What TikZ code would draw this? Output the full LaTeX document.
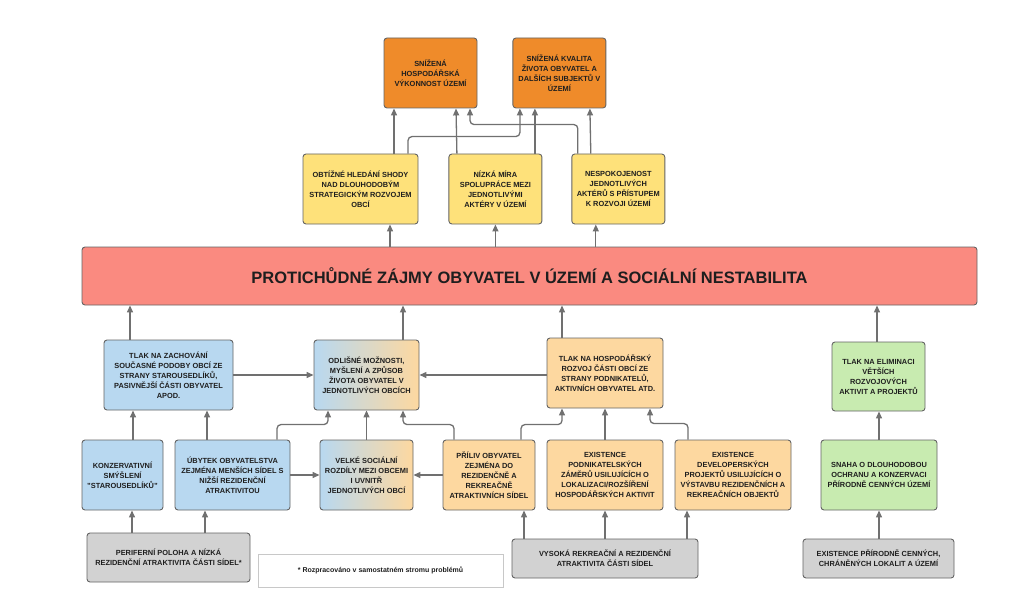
\documentclass[tikz,border=0pt]{standalone}
\usepackage{fontspec}
\setmainfont{Liberation Sans}
\usepackage{tikz}
\usepackage{xcolor}
\usetikzlibrary{positioning}
\usetikzlibrary{arrows.meta}

\definecolor{orangec}{RGB}{239,139,42}
\definecolor{yellowc}{RGB}{254,225,122}
\definecolor{redc}{RGB}{250,138,128}
\definecolor{bluec}{RGB}{184,216,240}
\definecolor{peachc}{RGB}{253,216,160}
\definecolor{greenc}{RGB}{200,235,176}
\definecolor{grayc}{RGB}{210,210,210}
\definecolor{edgec}{RGB}{100,100,100}
\definecolor{linkc}{RGB}{112,112,112}
\definecolor{notec}{RGB}{200,200,200}
\definecolor{textc}{RGB}{30,30,30}

\begin{document}
\begin{tikzpicture}[x=1pt, y=-1pt,
    cell/.style={draw=edgec, line width=0.9pt, rounded corners=3pt, align=center,
      inner sep=1pt, text=textc, font=\bfseries\fontsize{7.4}{10}\selectfont},
    link/.style={draw=linkc, line width=1.3pt, rounded corners=4pt,
      -{Triangle[length=7pt,width=6pt]}}]
    \useasboundingbox (0,0) rectangle (1024,596);

    \node(lowperf) [cell, fill=orangec, minimum width=93pt, minimum height=70pt] at (430.5,73) {SNÍŽENÁ\\HOSPODÁŘSKÁ\\VÝKONNOST ÚZEMÍ};
    \node(lowlife) [cell, fill=orangec, minimum width=93pt, minimum height=70pt, right = 35pt of lowperf] {SNÍŽENÁ KVALITA\\ŽIVOTA OBYVATEL A\\DALŠÍCH SUBJEKTŮ V\\ÚZEMÍ};

    \node(consensus) [cell, fill=yellowc, minimum width=115pt, minimum height=70pt] at (360.5,189) {OBTÍŽNÉ HLEDÁNÍ SHODY\\NAD DLOUHODOBÝM\\STRATEGICKÝM ROZVOJEM\\OBCÍ};
    \node(coop) [cell, fill=yellowc, minimum width=93pt, minimum height=70pt, right = 30pt of consensus] {NÍZKÁ MÍRA\\SPOLUPRÁCE MEZI\\JEDNOTLIVÝMI\\AKTÉRY V ÚZEMÍ};
    \node(discontent) [cell, fill=yellowc, minimum width=93pt, minimum height=70pt, right = 29pt of coop] {NESPOKOJENOST\\JEDNOTLIVÝCH\\AKTÉRŮ S PŘÍSTUPEM\\K ROZVOJI ÚZEMÍ};

    \node(conflict) [cell, fill=redc, minimum width=895pt, minimum height=58pt, font=\bfseries\fontsize{16.5}{20}\selectfont] at (529.5,276) {PROTICHŮDNÉ ZÁJMY OBYVATEL V ÚZEMÍ A SOCIÁLNÍ NESTABILITA};

    \node(preserve) [cell, fill=bluec, minimum width=129pt, minimum height=70pt] at (168.5,375) {TLAK NA ZACHOVÁNÍ\\SOUČASNÉ PODOBY OBCÍ ZE\\STRANY STAROUSEDLÍKŮ,\\PASIVNĚJŠÍ ČÁSTI OBYVATEL\\APOD.};
    \node(lifestyle) [cell, left color=bluec, right color=peachc, minimum width=105pt, minimum height=70pt] at (366.5,375) {ODLIŠNÉ MOŽNOSTI,\\MYŠLENÍ A ZPŮSOB\\ŽIVOTA OBYVATEL V\\JEDNOTLIVÝCH OBCÍCH};
    \node(econ) [cell, fill=peachc, minimum width=116pt, minimum height=70pt] at (605,373) {TLAK NA HOSPODÁŘSKÝ\\ROZVOJ ČÁSTI OBCÍ ZE\\STRANY PODNIKATELŮ,\\AKTIVNÍCH OBYVATEL ATD.};
    \node(eliminate) [cell, fill=greenc, minimum width=93pt, minimum height=69pt] at (878.5,376.5) {TLAK NA ELIMINACI\\VĚTŠÍCH\\ROZVOJOVÝCH\\AKTIVIT A PROJEKTŮ};

    \node(conserv) [cell, fill=bluec, minimum width=81pt, minimum height=70pt] at (122.5,475) {KONZERVATIVNÍ\\SMÝŠLENÍ\\"STAROUSEDLÍKŮ"};
    \node(decline) [cell, fill=bluec, minimum width=115pt, minimum height=70pt] at (232.5,475) {ÚBYTEK OBYVATELSTVA\\ZEJMÉNA MENŠÍCH SÍDEL S\\NIŽŠÍ REZIDENČNÍ\\ATRAKTIVITOU};
    \node(gaps) [cell, left color=bluec, right color=peachc, minimum width=93pt, minimum height=70pt] at (366.5,475) {VELKÉ SOCIÁLNÍ\\ROZDÍLY MEZI OBCEMI\\I UVNITŘ\\JEDNOTLIVÝCH OBCÍ};
    \node(inflow) [cell, fill=peachc, minimum width=92pt, minimum height=70pt] at (489,475) {PŘÍLIV OBYVATEL\\ZEJMÉNA DO\\REZIDENČNĚ A\\REKREAČNĚ\\ATRAKTIVNÍCH SÍDEL};
    \node(business) [cell, fill=peachc, minimum width=116pt, minimum height=70pt] at (605,475) {EXISTENCE\\PODNIKATELSKÝCH\\ZÁMĚRŮ USILUJÍCÍCH O\\LOKALIZACI/ROZŠÍŘENÍ\\HOSPODÁŘSKÝCH AKTIVIT};
    \node(develop) [cell, fill=peachc, minimum width=116pt, minimum height=70pt] at (733,475) {EXISTENCE\\DEVELOPERSKÝCH\\PROJEKTŮ USILUJÍCÍCH O\\VÝSTAVBU REZIDENČNÍCH A\\REKREAČNÍCH OBJEKTŮ};
    \node(protect) [cell, fill=greenc, minimum width=116pt, minimum height=70pt] at (879,475) {SNAHA O DLOUHODOBOU\\OCHRANU A KONZERVACI\\PŘÍRODNĚ CENNÝCH ÚZEMÍ};

    \node(periph) [cell, fill=grayc, minimum width=163pt, minimum height=49pt] at (168.5,557.5) {PERIFERNÍ POLOHA A NÍZKÁ\\REZIDENČNÍ ATRAKTIVITA ČÁSTI SÍDEL*};
    \node(note) [draw=notec, line width=0.6pt, fill=white, text=textc, minimum width=245pt, minimum height=33pt, font=\bfseries\fontsize{7}{9}\selectfont] at (380.5,570.5) {* Rozpracováno v samostatném stromu problémů};
    \node(attract) [cell, fill=grayc, minimum width=186pt, minimum height=39pt] at (605,558.5) {VYSOKÁ REKREAČNÍ A REZIDENČNÍ\\ATRAKTIVITA ČÁSTI SÍDEL};
    \node(nature) [cell, fill=grayc, minimum width=151pt, minimum height=39pt] at (878.5,558.5) {EXISTENCE PŘÍRODNĚ CENNÝCH,\\CHRÁNĚNÝCH LOKALIT A ÚZEMÍ};

    \draw [link] ([xshift=33.5pt]consensus.north) -- ([xshift=-36.5pt]lowperf.south);
    \draw [link] ([xshift=47.5pt]consensus.north) -- ++(0,-17) -| ([xshift=-39.5pt]lowlife.south);
    \draw [link] ([xshift=-38.5pt]coop.north) -- ([xshift=25.5pt]lowperf.south);
    \draw [link] ([xshift=39.5pt]coop.north) -- ([xshift=-24.5pt]lowlife.south);
    \draw [link] ([xshift=-40.5pt]discontent.north) -- ++(0,-29) -| ([xshift=39.5pt]lowperf.south);
    \draw [link] ([xshift=-27.5pt]discontent.north) -- ([xshift=30.5pt]lowlife.south);

    \draw [link] ([xshift=29.5pt]consensus.south |- conflict.north) -- ([xshift=29.5pt]consensus.south);
    \draw [link] (coop.south |- conflict.north) -- (coop.south);
    \draw [link] ([xshift=-22.5pt]discontent.south |- conflict.north) -- ([xshift=-22.5pt]discontent.south);

    \draw [link] ([xshift=-38.5pt]preserve.north) -- ([xshift=-38.5pt]preserve.north |- conflict.south);
    \draw [link] ([xshift=36.5pt]lifestyle.north) -- ([xshift=36.5pt]lifestyle.north |- conflict.south);
    \draw [link] ([xshift=-43pt]econ.north) -- ([xshift=-43pt]econ.north |- conflict.south);
    \draw [link] ([xshift=-1.5pt]eliminate.north) -- ([xshift=-1.5pt]eliminate.north |- conflict.south);

    \draw [link] (preserve.east) -- (lifestyle.west);
    \draw [link] (econ.west |- lifestyle.east) -- (lifestyle.east);

    \draw [link] ([xshift=10.5pt]conserv.north) -- ([xshift=10.5pt]conserv.north |- preserve.south);
    \draw [link] ([xshift=-25.5pt]decline.north) -- ([xshift=-25.5pt]decline.north |- preserve.south);
    \draw [link] ([xshift=44.5pt]decline.north) -- ++(0,-15) -| ([xshift=-38.5pt]lifestyle.south);
    \draw [link] (decline.east) -- (gaps.west);
    \draw [link] (gaps.north) -- (lifestyle.south);
    \draw [link] ([xshift=-35pt]inflow.north) -- ++(0,-15) -| ([xshift=36.5pt]lifestyle.south);
    \draw [link] (inflow.west) -- (gaps.east);
    \draw [link] ([xshift=32pt]inflow.north) -- ++(0,-15) -| ([xshift=-43pt]econ.south);
    \draw [link] (business.north) -- (econ.south);
    \draw [link] ([xshift=-45pt]develop.north) -- ++(0,-16) -| ([xshift=45pt]econ.south);
    \draw [link] (protect.north) -- (protect.north |- eliminate.south);

    \draw [link] ([xshift=9.5pt]conserv.south |- periph.north) -- ([xshift=9.5pt]conserv.south);
    \draw [link] ([xshift=-27.5pt]decline.south |- periph.north) -- ([xshift=-27.5pt]decline.south);
    \draw [link] ([xshift=35pt]inflow.south |- attract.north) -- ([xshift=35pt]inflow.south);
    \draw [link] (attract.north) -- (business.south);
    \draw [link] ([xshift=-46pt]develop.south |- attract.north) -- ([xshift=-46pt]develop.south);
    \draw [link] (nature.north -| protect.south) -- (protect.south);
  \end{tikzpicture}
\end{document}
